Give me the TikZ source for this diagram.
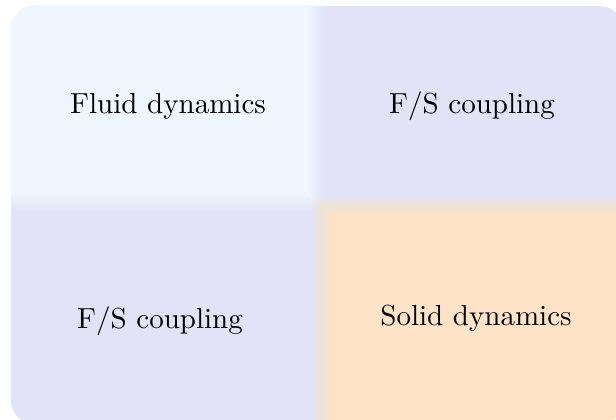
\documentclass[tikz,border=0pt]{standalone}
\begin{document}
\begin{tikzpicture}[x=0.3446pt,y=-0.3446pt,
  quadlabel/.style={font=\normalsize, inner sep=0pt}]
\definecolor{fluidblue}{HTML}{EFF6FF}
\definecolor{couplelav}{HTML}{E3E3F8}
\definecolor{solidpeach}{HTML}{FFE3C7}
\useasboundingbox (0,0) rectangle (616,420);
\begin{scope}
  \clip[rounded corners=8pt] (11,6) rectangle (623,424);
  \fill[couplelav] (0,0) rectangle (640,440);
  \foreach \k in {1,...,20} {
    \fill[fluidblue, opacity={1/(21-\k)}] (0,0) rectangle ({329-\k},{215-\k});
  }
  \foreach \k in {1,...,20} {
    \fill[solidpeach, opacity={1/(21-\k)}] ({311+\k},{195+\k}) rectangle (640,440);
  }
\end{scope}
\node[quadlabel] (fluid) at (168,106) {Fluid dynamics};
\node[quadlabel] (fstop) at (472,106) {F/S coupling};
\node[quadlabel] (fsbot) at (160,321) {F/S coupling};
\node[quadlabel] (solid) at (476,318) {Solid dynamics};
\end{tikzpicture}
\end{document}
